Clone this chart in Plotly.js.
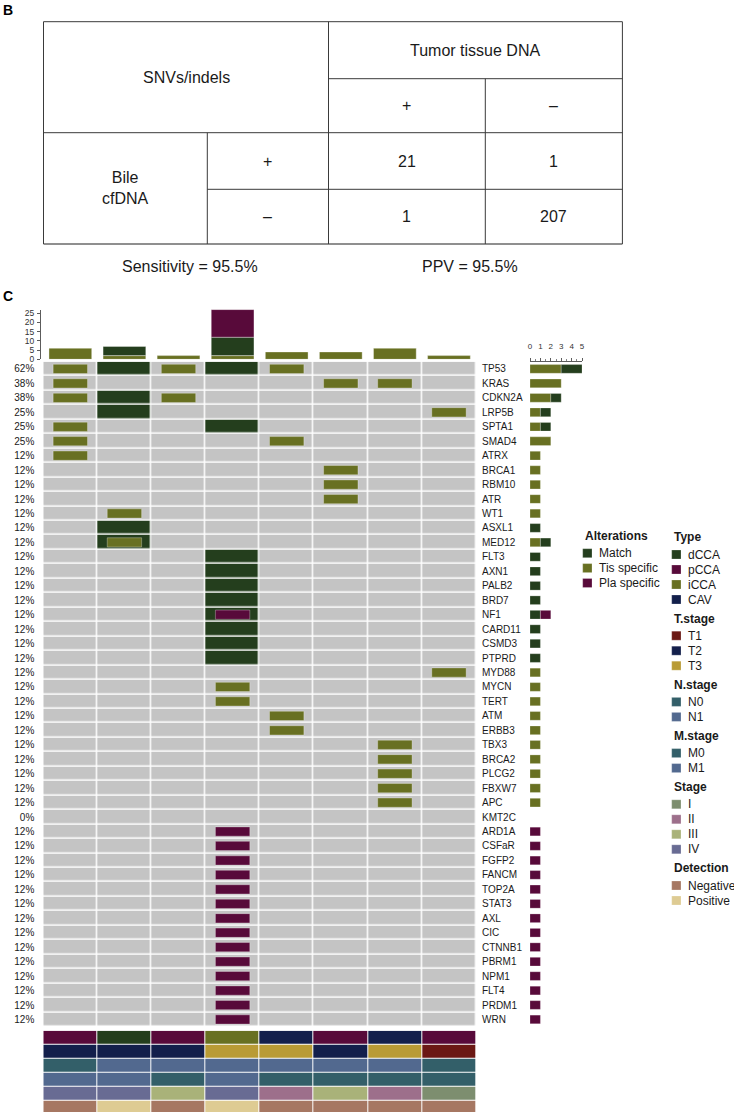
<!DOCTYPE html>
<html><head><meta charset="utf-8">
<script src="https://cdn.plot.ly/plotly-3.0.1.min.js"></script>
<style>html,body{margin:0;padding:0;background:#fff;overflow:hidden}#chart{width:734px;height:1112px}</style>
</head><body><div id="chart"></div>
<script>
// ===== Panel B: contingency table values =====
const tableTitle = 'SNVs/indels';
const tissueHeader = 'Tumor tissue DNA';
const bileHeader = 'Bile<br>cfDNA';
const signs = ['+', '–'];
const tableCounts = [[21, 1], [1, 207]];
const sensitivityText = 'Sensitivity = 95.5%';
const ppvText = 'PPV = 95.5%';

// ===== Panel C: oncoprint values =====
const samples = ['S1', 'S2', 'S3', 'S4', 'S5', 'S6', 'S7', 'S8'];
const genes = ['TP53','KRAS','CDKN2A','LRP5B','SPTA1','SMAD4','ATRX','BRCA1','RBM10','ATR','WT1','ASXL1','MED12',
  'FLT3','AXN1','PALB2','BRD7','NF1','CARD11','CSMD3','PTPRD','MYD88','MYCN','TERT','ATM','ERBB3','TBX3','BRCA2',
  'PLCG2','FBXW7','APC','KMT2C','ARD1A','CSFaR','FGFP2','FANCM','TOP2A','STAT3','AXL','CIC','CTNNB1','PBRM1',
  'NPM1','FLT4','PRDM1','WRN'];
const genePct = ['62%','38%','38%','25%','25%','25%','12%','12%','12%','12%','12%','12%','12%',
  '12%','12%','12%','12%','12%','12%','12%','12%','12%','12%','12%','12%','12%','12%','12%',
  '12%','12%','12%','0%','12%','12%','12%','12%','12%','12%','12%','12%','12%','12%',
  '12%','12%','12%','12%'];

// alterations per sample
const matchBySample = [
  [],
  ['TP53','CDKN2A','LRP5B','ASXL1','MED12'],
  [],
  ['TP53','SPTA1','FLT3','AXN1','PALB2','BRD7','NF1','CARD11','CSMD3','PTPRD'],
  [], [], [], []
];
const tisBySample = [
  ['TP53','KRAS','CDKN2A','SPTA1','SMAD4','ATRX'],
  ['WT1','MED12'],
  ['TP53','CDKN2A'],
  ['MYCN','TERT'],
  ['TP53','SMAD4','ATM','ERBB3'],
  ['KRAS','BRCA1','RBM10','ATR'],
  ['KRAS','TBX3','BRCA2','PLCG2','FBXW7','APC'],
  ['LRP5B','MYD88']
];
const plaBySample = [
  [], [], [],
  ['NF1','ARD1A','CSFaR','FGFP2','FANCM','TOP2A','STAT3','AXL','CIC','CTNNB1','PBRM1','NPM1','FLT4','PRDM1','WRN'],
  [], [], [], []
];

// top bar chart (alterations per sample)
const topTis   = [6, 2, 2, 2, 4, 4, 6, 2];
const topMatch = [0, 5, 0, 10, 0, 0, 0, 0];
const topPla   = [0, 0, 0, 15, 0, 0, 0, 0];
const topTicks = [0, 5, 10, 15, 20, 25];

// right bar chart (alterations per gene)
const geneTis   = [3,3,2,1,1,2,1,1,1,1,1,0,1, 0,0,0,0,0,0,0,0, 1,1,1,1,1,1,1,1,1,1, 0, 0,0,0,0,0,0,0,0,0,0,0,0,0,0];
const geneMatch = [2,0,1,1,1,0,0,0,0,0,0,1,1, 1,1,1,1,1,1,1,1, 0,0,0,0,0,0,0,0,0,0, 0, 0,0,0,0,0,0,0,0,0,0,0,0,0,0];
const genePla   = [0,0,0,0,0,0,0,0,0,0,0,0,0, 0,0,0,0,1,0,0,0, 0,0,0,0,0,0,0,0,0,0, 0, 1,1,1,1,1,1,1,1,1,1,1,1,1,1];
const rightTicks = [0, 1, 2, 3, 4, 5];

// legend / clinical annotation
const altNames = ['Match', 'Tis specific', 'Pla specific'];
const altColors = ['#243e1d', '#687022', '#580a3a'];

const typeCats = ['dCCA', 'pCCA', 'iCCA', 'CAV'];
const typeColors = ['#243e1d', '#580a3a', '#687022', '#131f4b'];
const tCats = ['T1', 'T2', 'T3'];
const tColors = ['#6b1814', '#131f4b', '#b99b35'];
const nCats = ['N0', 'N1'];
const nColors = ['#335f69', '#52698f'];
const mCats = ['M0', 'M1'];
const mColors = ['#335f69', '#52698f'];
const stageCats = ['I', 'II', 'III', 'IV'];
const stageColors = ['#7d8e6f', '#9d6f8b', '#a9b279', '#686b93'];
const detCats = ['Negative', 'Positive'];
const detColors = ['#a67762', '#decb93'];

const sampleType  = ['pCCA','dCCA','pCCA','iCCA','CAV','pCCA','CAV','pCCA'];
const sampleT     = ['T2','T2','T2','T3','T3','T2','T3','T1'];
const sampleN     = ['N0','N1','N1','N1','N1','N1','N1','N0'];
const sampleM     = ['M1','M1','M0','M1','M0','M0','M0','M0'];
const sampleStage = ['IV','IV','III','IV','II','III','II','I'];
const sampleDet   = ['Negative','Positive','Negative','Positive','Negative','Negative','Negative','Negative'];

// ===== layout helpers =====
const W = 734, H = 1112;
const px = x => x / W;
const py = y => 1 - y / H;
const FONT = 'Liberation Sans, Arial, Helvetica, sans-serif';
const TXT = '#1a1a1a';
const GRAY = '#c4c4c4';

const gridX0 = 43.3, gridX1 = 476, gridY0 = 361.7, gridY1 = 1026.7;
const xs = samples.map((_, i) => i + 1);
const rows = genes.map((_, i) => i);

const traces = [];

// background grid + match cells (heatmap)
const zMain = genes.map(g => samples.map((_, j) => matchBySample[j].includes(g) ? 1 : 0));
traces.push({
  type: 'heatmap', x: xs, y: rows, z: zMain, xaxis: 'x', yaxis: 'y',
  zmin: 0, zmax: 1, showscale: false, xgap: 1.5, ygap: 1.5, hoverinfo: 'skip',
  colorscale: [[0, GRAY], [0.5, GRAY], [0.5, altColors[0]], [1, altColors[0]]]
});

// inner rectangles for tissue-specific and plasma-specific
function innerBars(bySample, color) {
  const yv = [], bv = [], xv = [];
  bySample.forEach((list, j) => list.forEach(g => {
    yv.push(genes.indexOf(g)); bv.push(j + 1 - 0.318); xv.push(0.636);
  }));
  return { type: 'bar', orientation: 'h', xaxis: 'x', yaxis: 'y2', y: yv, x: xv, base: bv,
    width: 0.64, marker: { color: color, line: { color: 'rgba(255,255,255,0.3)', width: 1 } },
    hoverinfo: 'skip', showlegend: false };
}
traces.push(innerBars(tisBySample, altColors[1]));
traces.push(innerBars(plaBySample, altColors[2]));

// top stacked bars
const topBase2 = topTis.map((v, i) => v);
const topBase3 = topTis.map((v, i) => v + topMatch[i]);
[[topTis, samples.map(() => 0), altColors[1]], [topMatch, topBase2, altColors[0]], [topPla, topBase3, altColors[2]]]
  .forEach(([vals, base, col]) => {
    const idx = vals.map((v, i) => i).filter(i => vals[i] > 0);
    traces.push({ type: 'bar', xaxis: 'x2', yaxis: 'y3', x: idx.map(i => xs[i]), y: idx.map(i => vals[i]),
      base: idx.map(i => base[i]), width: 0.79,
      marker: { color: col, line: { color: 'rgba(255,255,255,0.35)', width: 1 } }, hoverinfo: 'skip' });
  });

// right stacked bars
const rBase2 = geneTis.map(v => v);
const rBase3 = geneTis.map((v, i) => v + geneMatch[i]);
[[geneTis, genes.map(() => 0), altColors[1]], [geneMatch, rBase2, altColors[0]], [genePla, rBase3, altColors[2]]]
  .forEach(([vals, base, col]) => {
    const idx = rows.filter(i => vals[i] > 0);
    traces.push({ type: 'bar', orientation: 'h', xaxis: 'x3', yaxis: 'y', y: idx, x: idx.map(i => vals[i]),
      base: idx.map(i => base[i]), width: 0.6,
      marker: { color: col, line: { color: 'rgba(255,255,255,0.3)', width: 0.8 } }, hoverinfo: 'skip' });
  });

// clinical annotation tracks (one heatmap, discrete colours)
const tracks = [
  [typeCats, typeColors, sampleType],
  [tCats, tColors, sampleT],
  [nCats, nColors, sampleN],
  [mCats, mColors, sampleM],
  [stageCats, stageColors, sampleStage],
  [detCats, detColors, sampleDet]
];
const allColors = [];
const zAnno = [];
tracks.forEach(([cats, cols, vals]) => {
  const off = allColors.length;
  cols.forEach(c => allColors.push(c));
  zAnno.push(vals.map(v => off + cats.indexOf(v)));
});
const nC = allColors.length;
const cs = [];
allColors.forEach((c, k) => { cs.push([k / nC, c]); cs.push([(k + 1) / nC, c]); });
traces.push({ type: 'heatmap', x: xs, y: tracks.map((_, i) => i), z: zAnno, xaxis: 'x4', yaxis: 'y4',
  zmin: -0.5, zmax: nC - 0.5, colorscale: cs, showscale: false, xgap: 1, ygap: 1, hoverinfo: 'skip' });

// ===== shapes & annotations =====
const shapes = [];
const annotations = [];
function line(x0, y0, x1, y1, color, w) {
  shapes.push({ type: 'line', xref: 'paper', yref: 'paper', x0: px(x0), y0: py(y0), x1: px(x1), y1: py(y1),
    line: { color: color || '#3a3a3a', width: w || 1 } });
}
function text(t, x, y, opts) {
  annotations.push(Object.assign({ text: t, xref: 'paper', yref: 'paper', x: px(x), y: py(y),
    showarrow: false, xanchor: 'center', yanchor: 'middle',
    font: { family: FONT, size: 16, color: TXT } }, opts || {}));
}

// panel labels
text('<b>B</b>', 1, 10, { xanchor: 'left', font: { family: FONT, size: 14, color: '#000' } });
text('<b>C</b>', 1, 296, { xanchor: 'left', font: { family: FONT, size: 14, color: '#000' } });

// table geometry
const T = { x0: 43.5, x1: 622.4, xm: 328.5, xc: 485.3, xb: 207.3, y0: 21.7, yh: 78.7, ym: 132.7, yr: 189.3, y1: 244 };
line(T.x0, T.y0, T.x1, T.y0);
line(T.x0, T.y1, T.x1, T.y1, '#6a6a6a', 1.5);
line(T.x0, T.y0, T.x0, T.y1);
line(T.x1, T.y0, T.x1, T.y1);
line(T.xm, T.y0, T.xm, T.y1);
line(T.xc, T.yh, T.xc, T.y1);
line(T.xb, T.ym, T.xb, T.y1);
line(T.xm, T.yh, T.x1, T.yh);
line(T.x0, T.ym, T.x1, T.ym);
line(T.xb, T.yr, T.x1, T.yr);

const colCx = [(T.xm + T.xc) / 2, (T.xc + T.x1) / 2];
const rowCy = [(T.ym + T.yr) / 2, (T.yr + T.y1) / 2];
text(tissueHeader, (T.xm + T.x1) / 2, (T.y0 + T.yh) / 2);
text(tableTitle, (T.x0 + T.xm) / 2, (T.y0 + T.ym) / 2);
text(bileHeader, (T.x0 + T.xb) / 2, (T.ym + T.y1) / 2);
signs.forEach((s, j) => text(s, colCx[j], (T.yh + T.ym) / 2));
signs.forEach((s, i) => text(s, (T.xb + T.xm) / 2, rowCy[i]));
tableCounts.forEach((r, i) => r.forEach((v, j) => text(String(v), colCx[j], rowCy[i])));
text(sensitivityText, 190, 266);
text(ppvText, 470, 266);

// legends
const LF = { family: FONT, size: 12, color: TXT };
function swatch(x, y, color) {
  shapes.push({ type: 'rect', xref: 'paper', yref: 'paper', x0: px(x), x1: px(x + 9.3), y0: py(y + 4.5), y1: py(y - 4.5),
    fillcolor: color, line: { color: 'rgba(255,255,255,0.4)', width: 0.6 } });
}
text('<b>Alterations</b>', 582.7, 535.7, { xanchor: 'left', font: LF });
altNames.forEach((n, i) => {
  const y = 553.2 + i * 14.9;
  swatch(582.7, y, altColors[i]);
  text(n, 597.3, y, { xanchor: 'left', font: LF });
});
const groupTitles = ['Type', 'T.stage', 'N.stage', 'M.stage', 'Stage', 'Detection'];
let gy = 537.3;
tracks.forEach(([cats, cols], g) => {
  text('<b>' + groupTitles[g] + '</b>', 671.7, gy, { xanchor: 'left', font: LF });
  let iy = gy + 17.2;
  cats.forEach((c, k) => {
    swatch(671.7, iy, cols[k]);
    text(c, 686, iy, { xanchor: 'left', font: LF });
    iy += 15;
  });
  gy = iy - 15 + 19;
});

// ===== axes =====
const xDom = [px(gridX0), px(gridX1)];
const yRange = [genes.length - 0.5, -0.5];
const hidden = { visible: false, showgrid: false, zeroline: false, fixedrange: true };

const layout = {
  width: W, height: H, margin: { l: 0, r: 0, t: 0, b: 0 },
  paper_bgcolor: '#fff', plot_bgcolor: 'rgba(0,0,0,0)',
  showlegend: false, barmode: 'overlay',
  font: { family: FONT, color: TXT },
  xaxis: Object.assign({}, hidden, { domain: xDom, range: [0.5, 8.5], anchor: 'y' }),
  yaxis: { domain: [py(gridY1), py(gridY0)], range: yRange, anchor: 'x', side: 'left',
    tickmode: 'array', tickvals: rows, ticktext: genePct, ticks: '', showline: false,
    showgrid: false, zeroline: false, ticklabelstandoff: 8, tickfont: { family: FONT, size: 10, color: TXT } },
  yaxis2: { overlaying: 'y', side: 'right', anchor: 'x', range: yRange,
    tickmode: 'array', tickvals: rows, ticktext: genes, ticks: '', showline: false,
    showgrid: false, zeroline: false, ticklabelstandoff: 5, tickfont: { family: FONT, size: 10, color: TXT } },
  xaxis2: Object.assign({}, hidden, { domain: xDom, range: [0.5, 8.5], anchor: 'y3' }),
  yaxis3: { domain: [py(359.3), py(309.6)], range: [0, 27], anchor: 'free', position: px(40),
    tickmode: 'array', tickvals: topTicks, ticks: 'outside', ticklen: 3, tickwidth: 0.8, tickcolor: '#333',
    showline: true, linecolor: '#333', linewidth: 0.8, showgrid: false, zeroline: false,
    ticklabelstandoff: 1, tickfont: { family: FONT, size: 8.5, color: '#333' } },
  xaxis3: { domain: [px(530), px(582)], range: [0, 5], anchor: 'y', side: 'top',
    tickmode: 'array', tickvals: rightTicks, ticks: 'outside', ticklen: 3, tickwidth: 0.8, tickcolor: '#333',
    minor: { tickmode: 'array', tickvals: [0.5, 1.5, 2.5, 3.5, 4.5], ticks: 'outside', ticklen: 2, tickwidth: 0.6, tickcolor: '#333' },
    showline: true, linecolor: '#333', linewidth: 0.8, showgrid: false, zeroline: false,
    ticklabelstandoff: 6, tickfont: { family: FONT, size: 8, color: '#333' } },
  xaxis4: Object.assign({}, hidden, { domain: xDom, range: [0.5, 8.5], anchor: 'y4' }),
  yaxis4: Object.assign({}, hidden, { domain: [0, py(1030.7)], range: [5.307, -0.5], anchor: 'x4' }),
  shapes: shapes,
  annotations: annotations
};

Plotly.newPlot('chart', traces, layout, { displayModeBar: false, staticPlot: true });
</script>
</body></html>
